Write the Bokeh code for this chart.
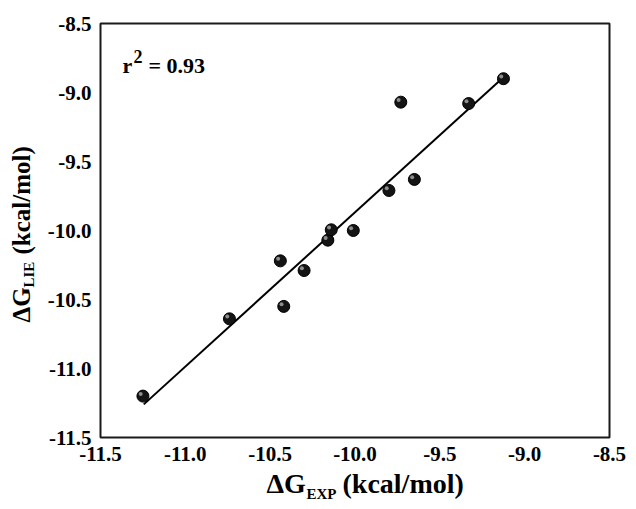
import numpy as np
from bokeh.plotting import figure
from bokeh.models import Range1d, FixedTicker, NumeralTickFormatter, Label, Title, ColumnDataSource
from bokeh.embed import file_html
from bokeh.resources import INLINE

# ---- data ----
dg_exp = [-11.25, -10.74, -10.44, -10.42, -10.30, -10.16, -10.14, -10.01, -9.80, -9.73, -9.65, -9.33, -9.125]
dg_lie = [-11.20, -10.64, -10.22, -10.55, -10.29, -10.07, -9.995, -10.00, -9.71, -9.07, -9.63, -9.08, -8.90]
fit_x = [-11.245, -9.125]
fit_y = [-11.26, -8.89]
ticks = [-11.5, -11.0, -10.5, -10.0, -9.5, -9.0, -8.5]
r2_text = "0.93"

FRAME_W, FRAME_H = 509, 414
p = figure(width=632, height=509, frame_width=FRAME_W, frame_height=FRAME_H,
           x_range=Range1d(-11.5, -8.5), y_range=Range1d(-11.5, -8.5),
           output_backend="svg", toolbar_location=None,
           min_border_left=100, min_border_right=23, min_border_top=23, min_border_bottom=72)
p.grid.visible = False
p.background_fill_color = "white"
p.border_fill_color = "white"
p.outline_line_color = "#1a1a1a"
p.outline_line_width = 2

for ax in (p.xaxis[0], p.yaxis[0]):
    ax.ticker = FixedTicker(ticks=ticks)
    ax.formatter = NumeralTickFormatter(format="0.0")
    ax.axis_line_color = None
    ax.major_tick_in = 0
    ax.major_tick_out = 0
    ax.minor_tick_line_color = None
    ax.major_label_text_font = "Liberation Serif"
    ax.major_label_text_font_style = "bold"
    ax.major_label_text_font_size = "21px"
    ax.major_label_text_color = "black"
p.xaxis.major_label_standoff = 9
p.yaxis.major_label_standoff = 9

# regression line
p.line(fit_x, fit_y, line_color="black", line_width=2)

# points: dark spheres with a small highlight
src = ColumnDataSource(dict(x=dg_exp, y=dg_lie))
p.scatter("x", "y", source=src, size=12, fill_color="#141414", line_color="#000000", line_width=1)
px_x = 3.0 / FRAME_W
px_y = 3.0 / FRAME_H
hx = [v - 2.2 * px_x for v in dg_exp]
hy = [v + 2.2 * px_y for v in dg_lie]
p.scatter(hx, hy, size=4, fill_color="#9a9a9a", line_color=None, fill_alpha=0.9)

F = "Liberation Serif"
def lab(text, x, y, size):
    p.add_layout(Label(x=x, y=y, x_units="screen", y_units="screen", text=text,
                       text_font=F, text_font_style="bold", text_font_size=size,
                       text_color="black", text_align="left", text_baseline="alphabetic"))

# r^2 annotation (inside the frame)
lab("r", 22, 372, "22px")
lab("2", 33, 381, "18px")
lab("= " + r2_text, 48, 372, "22px")

# axis titles with subscripts, as titles in the side panels
def side_title(text, place, offset, standoff, size, valign):
    t = Title(text=text, align="left", vertical_align=valign, offset=offset, standoff=standoff,
              text_font=F, text_font_style="bold", text_font_size=size, text_color="black")
    p.add_layout(t, place)

# x: ΔG_EXP (kcal/mol)
side_title("\u0394G", "below", 166, -70, "28px", "bottom")
side_title("EXP", "below", 206, -76, "15px", "bottom")
side_title("(kcal/mol)", "below", 242, -70, "28px", "bottom")

# y: ΔG_LIE (kcal/mol)
side_title("\u0394G", "left", 115, -73, "25px", "top")
side_title("LIE", "left", 150, -47, "15px", "top")
side_title("(kcal/mol)", "left", 183, -73, "25px", "top")

open("out.html", "w").write(file_html(p, INLINE))
